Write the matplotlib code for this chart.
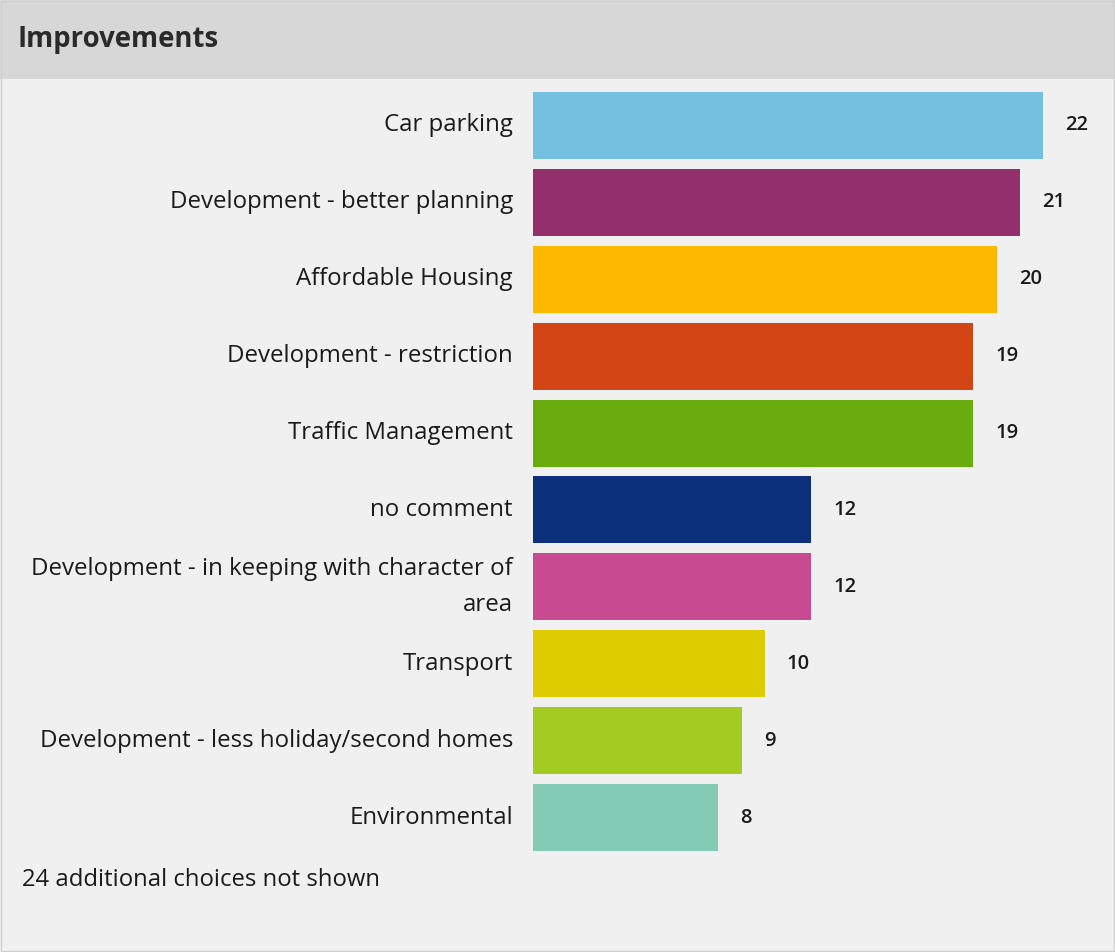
import matplotlib
matplotlib.use("Agg")
import matplotlib.pyplot as plt
from matplotlib.patches import Rectangle

categories = ["Car parking", "Development - better planning", "Affordable Housing",
              "Development - restriction", "Traffic Management", "no comment",
              "Development - in keeping with character of\narea", "Transport",
              "Development - less holiday/second homes", "Environmental"]
values = [22, 21, 20, 19, 19, 12, 12, 10, 9, 8]
colors = ["#74c0e0", "#93306c", "#fdb900", "#d44516", "#6aab0e",
          "#0b2f7a", "#c84b91", "#dccc00", "#a3cb22", "#84cbb5"]
title = "Improvements"
footnote = "24 additional choices not shown"

W, H = 1115, 952
fig = plt.figure(figsize=(W / 100, H / 100), dpi=100)
fig.patch.set_facecolor("#f0f0f0")

# header band
fig.patches.append(Rectangle((0, 1 - 79 / H), 1, 79 / H, transform=fig.transFigure,
                             facecolor="#d7d7d7", edgecolor="none", zorder=0))
fig.patches.append(Rectangle((1 / W, 1 / H), 1 - 2 / W, 1 - 2 / H, transform=fig.transFigure,
                             facecolor="none", edgecolor="#d0d0d0", lw=1, zorder=1))
fig.text(18 / W, 1 - 39 / H, title, fontsize=19.8, fontweight="bold", family="Open Sans",
         color="#2a2a2a", va="center", ha="left")

left, right = 533, 1043
top, bottom = 87, 856
ax = fig.add_axes([left / W, 1 - bottom / H, (right - left) / W, (bottom - top) / H])
ax.set_facecolor("none")
ypos = list(range(len(categories)))
ax.barh(ypos, values, height=0.87, color=colors, edgecolor="none")
ax.set_xlim(0, max(values))
ax.set_ylim(len(categories) - 0.5, -0.5)
for s in ax.spines.values():
    s.set_visible(False)
ax.set_xticks([])
ax.set_yticks(ypos)
ax.set_yticklabels(categories, fontsize=17.3, family="Open Sans", color="#1a1a1a",
                   linespacing=1.65, va="center")
ax.tick_params(axis="y", length=0, pad=14.4)
for y, v in zip(ypos, values):
    ax.annotate(str(v), (v, y), xytext=(22, 0), textcoords="offset pixels",
                va="center", ha="left", fontsize=14.5, fontweight="semibold",
                family="Open Sans", color="#1a1a1a")

fig.text(22 / W, 1 - 880 / H, footnote, fontsize=17.2, family="Open Sans",
         color="#1a1a1a", va="center", ha="left")

fig.savefig("out.png", dpi=100, facecolor=fig.get_facecolor())
